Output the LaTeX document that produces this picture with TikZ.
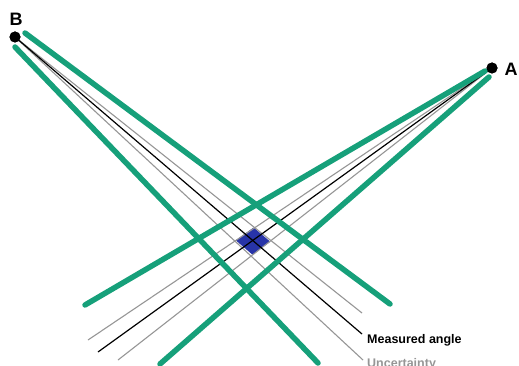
\documentclass[tikz,border=0pt]{standalone}
\usepackage{fontspec}
\setmainfont{Liberation Sans}
\definecolor{bandgreen}{RGB}{22,160,122}
\definecolor{cellblue}{RGB}{40,52,168}
\definecolor{uncgray}{RGB}{150,150,150}
\begin{document}
\begin{tikzpicture}[x=1pt,y=-1pt,
  station/.style={circle,fill=black,inner sep=0pt,minimum size=11pt},
  stlabel/.style={font=\fontsize{18}{18}\selectfont\bfseries,inner sep=0pt},
  band/.style={bandgreen,line width=5.5pt,line cap=round},
  measured/.style={black,line width=1.2pt},
  unc/.style={uncgray,line width=1.1pt},
  legend/.style={font=\fontsize{12.5}{13}\selectfont\bfseries,inner sep=0pt,anchor=base west}]
\useasboundingbox (0,0) rectangle (519,366);
\clip (0,0) rectangle (519,366);
% stations
\node[station] (B) at (15,37) {};
\node[station] (A) at (492,68) {};
\node[stlabel] (Blab) at (16,19) {B};
\node[stlabel] (Alab) at (511,69) {A};
% line ends
\coordinate (Bg1s) at (25,33);
\coordinate (Bg1e) at (390,304);
\coordinate (Bg2s) at (15,47);
\coordinate (Bg2e) at (318,363);
\coordinate (Bme) at (362,334);
\coordinate (Bu1e) at (362,313);
\coordinate (Bu2e) at (363,360);
\coordinate (Ag1s) at (485,71);
\coordinate (Ag1e) at (85,305);
\coordinate (Ag2s) at (489,77);
\coordinate (Ag2e) at (160,364);
\coordinate (Ame) at (98,352);
\coordinate (Au1e) at (88,340);
\coordinate (Au2e) at (118,360);
% intersection cell
\fill[cellblue] (253.6,227.5) -- (270.3,241.7) -- (252.4,254.6) -- (235.7,240.3) -- cycle;
% uncertainty lines
\draw[unc] (B.center) -- (Bu1e);
\draw[unc] (B.center) -- (Bu2e);
\draw[unc] (A.center) -- (Au1e);
\draw[unc] (A.center) -- (Au2e);
% measured lines
\draw[measured] (B.center) -- (Bme);
\draw[measured] (A.center) -- (Ame);
% green bands
\draw[band] (Bg1s) -- (Bg1e);
\draw[band] (Bg2s) -- (Bg2e);
\draw[band] (Ag1s) -- (Ag1e);
\draw[band] (Ag2s) -- (Ag2e);
% redraw station dots on top
\node[station] at (B.center) {};
\node[station] at (A.center) {};
% legend
\node[legend] (mlab) at (367,343) {Measured angle};
\node[legend,text=uncgray] (ulab) at (367,367) {Uncertainty};
\end{tikzpicture}
\end{document}
